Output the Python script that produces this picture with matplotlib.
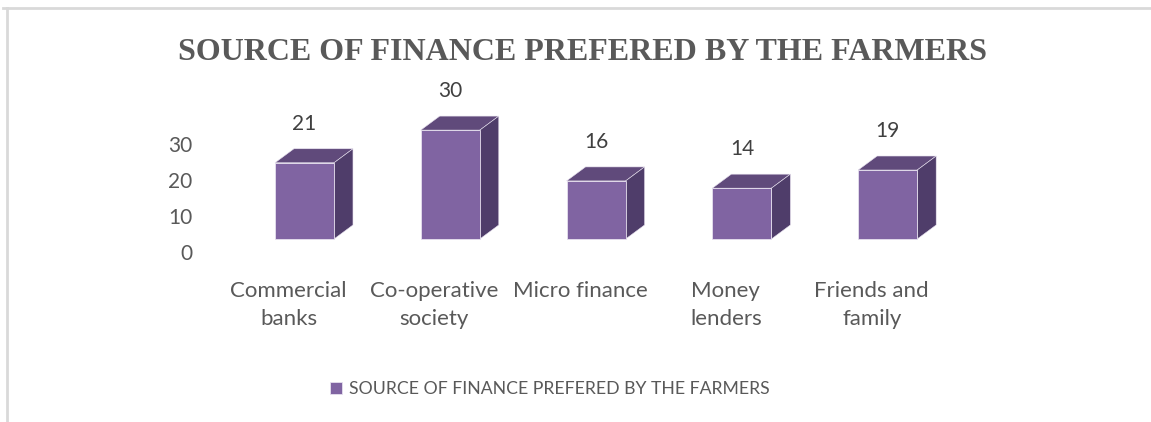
import numpy as np
import matplotlib
matplotlib.use('Agg')
import matplotlib.pyplot as plt
from matplotlib.patches import Polygon
from matplotlib.transforms import ScaledTranslation

categories = ['Commercial\nbanks', 'Co-operative\nsociety', 'Micro finance',
              'Money\nlenders', 'Friends and\nfamily']
values = [21, 30, 16, 14, 19]
yticks = [0, 10, 20, 30]
title = 'SOURCE OF FINANCE PREFERED BY THE FARMERS'
series_name = 'SOURCE OF FINANCE PREFERED BY THE FARMERS'

front_col = '#8064a2'
top_col = '#604a7b'
side_col = '#4f3d6a'
text_col = '#595959'

W, H = 1151, 422
fig = plt.figure(figsize=(W / 100, H / 100), dpi=100)

# axes placed so bar base sits at y=239px and 3.63 px per unit
ax = fig.add_axes([231.6 / W, (H - 239) / H, 729 / W, 145.2 / H])
ax.set_xlim(-0.5, 4.5)
ax.set_ylim(0, 40)

x = np.arange(len(values))
w = 0.405
dx, dy = 0.13, 3.86  # fake 3d depth

bars = ax.bar(x, values, width=w, color=front_col, edgecolor='#e6e0ee',
              linewidth=0.6, label=series_name, zorder=3, clip_on=False)
for xi, v in zip(x, values):
    top = [(xi - w / 2, v), (xi + w / 2, v), (xi + w / 2 + dx, v + dy), (xi - w / 2 + dx, v + dy)]
    side = [(xi + w / 2, 0), (xi + w / 2 + dx, dy), (xi + w / 2 + dx, v + dy), (xi + w / 2, v)]
    ax.add_patch(Polygon(top, closed=True, facecolor=top_col, edgecolor='#e6e0ee', lw=0.4, zorder=2, clip_on=False))
    ax.add_patch(Polygon(side, closed=True, facecolor=side_col, edgecolor='#e6e0ee', lw=0.4, zorder=2, clip_on=False))
    ax.annotate(str(v), (xi, v), xytext=(0, 28), textcoords='offset points',
                ha='center', va='center', fontsize=15, color='#404040', family='Lato')

for s in ax.spines.values():
    s.set_visible(False)

ax.set_yticks(yticks)
ax.set_yticklabels([str(t) for t in yticks], fontsize=15, color=text_col, family='Lato')
ax.tick_params(axis='y', length=0, pad=28.5)
for lab in ax.get_yticklabels():
    lab.set_transform(lab.get_transform() + ScaledTranslation(0, -0.135, fig.dpi_scale_trans))

ax.set_xticks(x)
ax.set_xticklabels(categories, fontsize=16, color=text_col, family='Lato', linespacing=1.5)
ax.tick_params(axis='x', length=0, pad=30.5)
for lab in ax.get_xticklabels():
    lab.set_transform(lab.get_transform() + ScaledTranslation(-0.16, 0, fig.dpi_scale_trans))

fig.text(582 / W, 1 - 52 / H, title, ha='center', va='center', fontsize=23,
         fontweight='bold', family='Liberation Serif', color=text_col)

fig.legend(handles=[bars], labels=[series_name], loc='center',
           bbox_to_anchor=(550 / W, 1 - 389 / H), frameon=False,
           handlelength=0.7, handleheight=0.7, handletextpad=0.4,
           prop={'family': 'Lato', 'size': 12.7}, labelcolor=text_col)

# light gray frame lines on top and left
fig.add_artist(plt.Line2D([3 / W, 1], [1 - 8 / H, 1 - 8 / H], color='#d9d9d9', lw=2))
fig.add_artist(plt.Line2D([7 / W, 7 / W], [0, 1 - 8 / H], color='#d9d9d9', lw=2))

fig.savefig('out.png', dpi=100)
